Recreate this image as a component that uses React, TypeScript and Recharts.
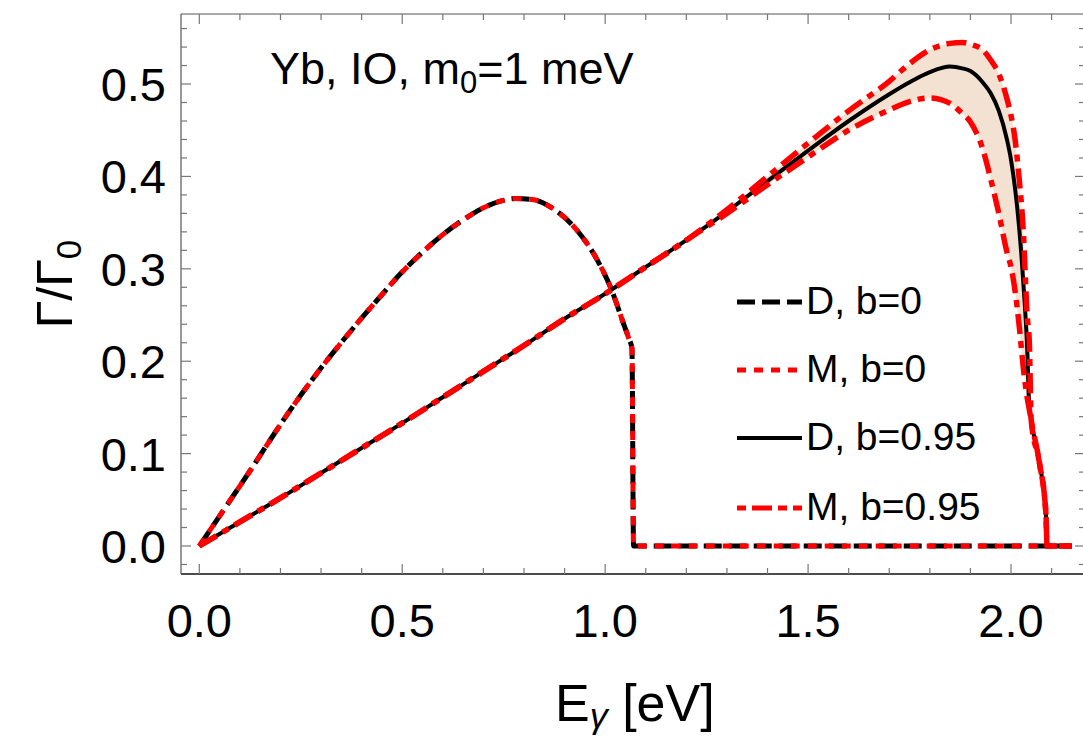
import { ComposedChart, Line, Area, XAxis, YAxis } from 'recharts'

// b = 0 curve (Dirac and Majorana coincide)
const b0X = [0, 0.06, 0.126, 0.175, 0.224, 0.29, 0.355, 0.438, 0.503, 0.55, 0.6, 0.65, 0.7, 0.74, 0.78, 0.82, 0.865, 0.93, 0.98, 1.016, 1.045, 1.058, 1.066, 1.07, 2.15]
const b0Y = [0, 0.039, 0.082, 0.115, 0.147, 0.187, 0.223, 0.266, 0.298, 0.318, 0.337, 0.353, 0.366, 0.373, 0.376, 0.375, 0.367, 0.342, 0.31, 0.277, 0.241, 0.225, 0.214, 0, 0]

// b = 0.95 curves: Dirac line plus Majorana band (upper / lower edges)
const b95X = [0, 0.1, 0.2, 0.3, 0.4, 0.5, 0.6, 0.7, 0.8, 0.9, 1.0, 1.1, 1.2, 1.3, 1.4, 1.5, 1.6, 1.7, 1.75, 1.8, 1.85, 1.88, 1.9, 1.93, 1.95, 1.97, 1.99, 2.0, 2.01, 2.02, 2.03, 2.04, 2.045, 2.05, 2.07, 2.086, 2.089, 2.15]
const dY = [0, 0.026, 0.052, 0.079, 0.106, 0.133, 0.161, 0.189, 0.217, 0.246, 0.273, 0.302, 0.331, 0.362, 0.395, 0.428, 0.46, 0.489, 0.502, 0.513, 0.519, 0.517, 0.514, 0.502, 0.49, 0.471, 0.44, 0.418, 0.387, 0.345, 0.287, 0.212, 0.15, 0.135, 0.09, 0.035, 0, 0]
const mUpY = [0, 0.026, 0.052, 0.079, 0.106, 0.133, 0.161, 0.189, 0.217, 0.246, 0.273, 0.302, 0.331, 0.364, 0.4, 0.436, 0.471, 0.503, 0.522, 0.537, 0.544, 0.545, 0.543, 0.537, 0.526, 0.511, 0.484, 0.466, 0.44, 0.398, 0.343, 0.248, 0.222, 0.135, 0.09, 0.035, 0, 0]
const mLoY = [0, 0.026, 0.052, 0.079, 0.106, 0.133, 0.161, 0.189, 0.217, 0.246, 0.273, 0.302, 0.331, 0.36, 0.391, 0.421, 0.45, 0.472, 0.481, 0.485, 0.479, 0.468, 0.459, 0.43, 0.397, 0.36, 0.318, 0.302, 0.276, 0.239, 0.194, 0.16, 0.148, 0.135, 0.09, 0.035, 0, 0]

const xTicks = [0, 0.1, 0.2, 0.3, 0.4, 0.5, 0.6, 0.7, 0.8, 0.9, 1.0, 1.1, 1.2, 1.3, 1.4, 1.5, 1.6, 1.7, 1.8, 1.9, 2.0, 2.1]
const xMajor = [0, 0.5, 1.0, 1.5, 2.0]
const yTicks = [-0.02, 0, 0.02, 0.04, 0.06, 0.08, 0.1, 0.12, 0.14, 0.16, 0.18, 0.2, 0.22, 0.24, 0.26, 0.28, 0.3, 0.32, 0.34, 0.36, 0.38, 0.4, 0.42, 0.44, 0.46, 0.48, 0.5, 0.52, 0.54, 0.56]
const yMajor = [0, 0.1, 0.2, 0.3, 0.4, 0.5]

const xDomain = [-0.0451, 2.1823]
const yDomain = [-0.0303, 0.5758]

const b0 = b0X.map((x, i) => ({ x, y: b0Y[i] }))
const b95 = b95X.map((x, i) => ({ x, d: dY[i], up: mUpY[i], lo: mLoY[i] }))

const FONT = '"Liberation Sans", Arial, Helvetica, sans-serif'
const TICK = '#777'
const RED = '#ff0000'

const isMajor = (list: number[], v: number) => list.some((m) => Math.abs(m - v) < 1e-6)

function BottomTick({ x, y, payload }: any) {
  const major = isMajor(xMajor, payload.value)
  return (
    <g>
      <line x1={x} x2={x} y1={y} y2={y - (major ? 10 : 6)} stroke={TICK} strokeWidth={1.2} />
      {major && (
        <text x={x} y={y + 63} textAnchor="middle" fontSize={47} fontFamily={FONT} fill="#000">
          {payload.value.toFixed(1)}
        </text>
      )}
    </g>
  )
}

function TopTick({ x, y, payload }: any) {
  const major = isMajor(xMajor, payload.value)
  return <line x1={x} x2={x} y1={y} y2={y + (major ? 10 : 6)} stroke={TICK} strokeWidth={1.2} />
}

function LeftTick({ x, y, payload }: any) {
  const major = isMajor(yMajor, payload.value)
  return (
    <g>
      <line x1={x} x2={x + (major ? 10 : 6)} y1={y} y2={y} stroke={TICK} strokeWidth={1.2} />
      {major && (
        <text x={x - 15} y={y + 17} textAnchor="end" fontSize={47} fontFamily={FONT} fill="#000">
          {payload.value.toFixed(1)}
        </text>
      )}
    </g>
  )
}

function RightTick({ x, y, payload }: any) {
  const major = isMajor(yMajor, payload.value)
  return <line x1={x} x2={x - (major ? 10 : 6)} y1={y} y2={y} stroke={TICK} strokeWidth={1.2} />
}

const legendItems = [
  { label: 'D, b=0', stroke: '#000', width: 5, dash: '18 7' },
  { label: 'M, b=0', stroke: RED, width: 5, dash: '9 8' },
  { label: 'D, b=0.95', stroke: '#000', width: 4, dash: undefined },
  { label: 'M, b=0.95', stroke: RED, width: 5, dash: '9 6 20 6' },
]
const legendRows = [302, 370, 438, 508]

export default function App() {
  return (
    <div style={{ position: 'absolute', left: 0, top: 0, width: 1083, height: 736, overflow: 'hidden', background: '#fff' }}>
      <ComposedChart width={1100} height={736} margin={{ top: 13, right: 14, bottom: 161, left: 180 }}>
        <XAxis
          xAxisId="b"
          dataKey="x"
          type="number"
          orientation="bottom"
          domain={xDomain}
          allowDataOverflow
          ticks={xTicks}
          interval={0}
          height={1}
          tickSize={0}
          tickMargin={0}
          tickLine={false}
          tick={<BottomTick />}
          axisLine={{ stroke: '#111', strokeWidth: 1.5 }}
        />
        <XAxis
          xAxisId="t"
          dataKey="x"
          type="number"
          orientation="top"
          domain={xDomain}
          allowDataOverflow
          ticks={xTicks}
          interval={0}
          height={1}
          tickSize={0}
          tickMargin={0}
          tickLine={false}
          tick={<TopTick />}
          axisLine={{ stroke: '#555', strokeWidth: 1.2 }}
        />
        <YAxis
          yAxisId="l"
          type="number"
          orientation="left"
          domain={yDomain}
          allowDataOverflow
          ticks={yTicks}
          interval={0}
          width={1}
          tickSize={0}
          tickMargin={0}
          tickLine={false}
          tick={<LeftTick />}
          axisLine={{ stroke: '#555', strokeWidth: 1.2 }}
        />
        <YAxis
          yAxisId="r"
          type="number"
          orientation="right"
          domain={yDomain}
          allowDataOverflow
          ticks={yTicks}
          interval={0}
          width={1}
          tickSize={0}
          tickMargin={0}
          tickLine={false}
          tick={<RightTick />}
          axisLine={{ stroke: '#555', strokeWidth: 1.2 }}
        />
        <Area
          xAxisId="b"
          yAxisId="l"
          data={b95}
          dataKey={(d: any) => [d.lo, d.up]}
          type="monotone"
          stroke="none"
          fill="#f3e2d2"
          fillOpacity={1}
          isAnimationActive={false}
          dot={false}
          activeDot={false}
        />
        <Line xAxisId="b" yAxisId="l" data={b0} dataKey="y" type="monotone" stroke="#000" strokeWidth={5}
          strokeDasharray="18 7" dot={false} activeDot={false} isAnimationActive={false} />
        <Line xAxisId="b" yAxisId="l" data={b0} dataKey="y" type="monotone" stroke={RED} strokeWidth={5}
          strokeDasharray="9 8" dot={false} activeDot={false} isAnimationActive={false} />
        <Line xAxisId="b" yAxisId="l" data={b95} dataKey="d" type="monotone" stroke="#000" strokeWidth={4}
          dot={false} activeDot={false} isAnimationActive={false} />
        <Line xAxisId="b" yAxisId="l" data={b95} dataKey="up" type="monotone" stroke={RED} strokeWidth={5.5}
          strokeDasharray="20 7 7 7" dot={false} activeDot={false} isAnimationActive={false} />
        <Line xAxisId="b" yAxisId="l" data={b95} dataKey="lo" type="monotone" stroke={RED} strokeWidth={5.5}
          strokeDasharray="20 7 7 7" dot={false} activeDot={false} isAnimationActive={false} />
      </ComposedChart>

      <svg width={1083} height={736} style={{ position: 'absolute', left: 0, top: 0, pointerEvents: 'none' }}>
        <text x={270} y={84} fontSize={45} fontFamily={FONT} fill="#000">
          Yb, IO, m<tspan fontSize={31} dy={9}>0</tspan><tspan dy={-9}>=1 meV</tspan>
        </text>
        <text x={555} y={721} fontSize={52} fontFamily={FONT} fill="#000">
          E<tspan fontSize={36} dy={7} fontStyle="italic">γ</tspan><tspan dy={-7}> [eV]</tspan>
        </text>
        <text transform="translate(72 284) rotate(-90)" x={0} y={0} textAnchor="middle" fontSize={50} fontFamily={FONT} fill="#000">
          Γ/Γ<tspan fontSize={35} dy={9}>0</tspan>
        </text>
        {legendItems.map((it, i) => (
          <g key={it.label}>
            <line x1={737} x2={802} y1={legendRows[i]} y2={legendRows[i]} stroke={it.stroke} strokeWidth={it.width}
              strokeDasharray={it.dash} />
            <text x={806} y={legendRows[i] + 12} fontSize={39} fontFamily={FONT} fill="#000">{it.label}</text>
          </g>
        ))}
      </svg>
    </div>
  )
}
